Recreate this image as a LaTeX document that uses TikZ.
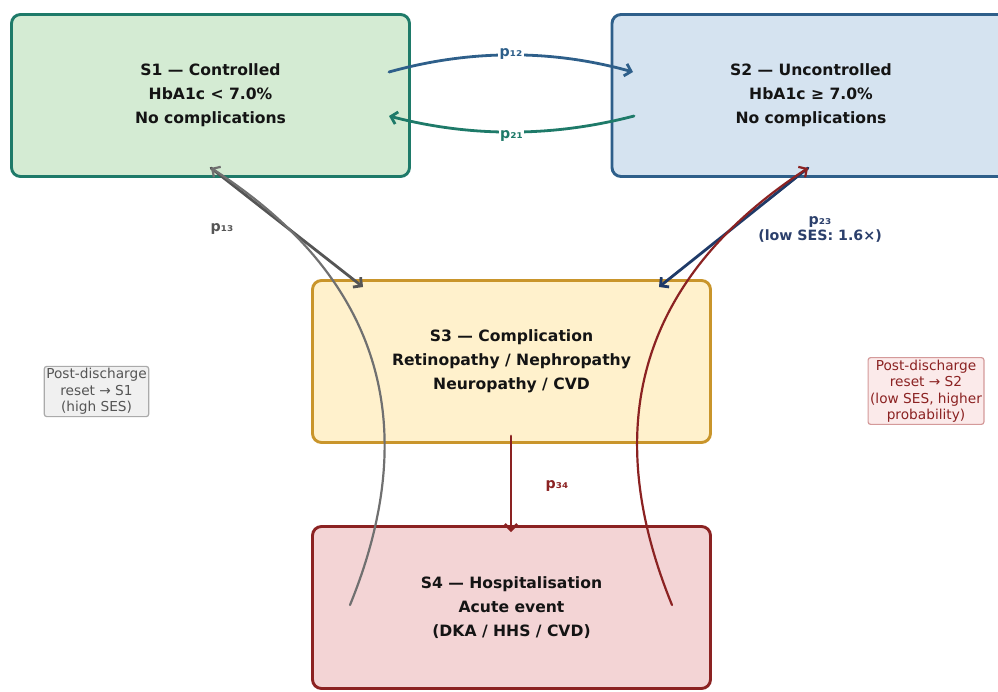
\documentclass[tikz,border=0pt]{standalone}
\usepackage{fontspec}
\setmainfont{DejaVu Sans}
\usetikzlibrary{arrows.meta,calc}
\definecolor{txt}{HTML}{141414}
\definecolor{sAfill}{HTML}{D4EBD3}
\definecolor{sAdraw}{HTML}{1E7A69}
\definecolor{sBfill}{HTML}{D5E3F0}
\definecolor{sBdraw}{HTML}{2E5F8A}
\definecolor{sCfill}{HTML}{FFF1CC}
\definecolor{sCdraw}{HTML}{C9952B}
\definecolor{sDfill}{HTML}{F3D4D5}
\definecolor{sDdraw}{HTML}{8B2222}
\definecolor{grayarr}{HTML}{555555}
\definecolor{grayreset}{HTML}{707070}
\definecolor{navy}{HTML}{1F3A68}
\definecolor{navytxt}{HTML}{2B3F6B}
\definecolor{noteAfill}{HTML}{F0F0F0}
\definecolor{noteAdraw}{HTML}{AAAAAA}
\definecolor{noteAtxt}{HTML}{555555}
\definecolor{noteBfill}{HTML}{FBEAEA}
\definecolor{noteBdraw}{HTML}{D49A9A}
\begin{document}
\begin{tikzpicture}[x=1pt,y=-1pt,
  state/.style={rectangle, rounded corners=9pt, line width=2.9pt,
    minimum width=398pt, minimum height=162pt, inner sep=0pt, align=center,
    text=txt, font=\fontsize{15.6}{24}\selectfont\bfseries},
  arr/.style={line width=2.8pt, line cap=round,
    -{Straight Barb[length=6pt,width=12.5pt]}},
  plabel/.style={font=\fontsize{14.2}{16}\selectfont\bfseries, align=center, inner sep=1.5pt},
  note/.style={rectangle, rounded corners=2.5pt, line width=1.2pt, align=center,
    inner sep=2pt, font=\fontsize{13.7}{16.5}\selectfont}
]
\useasboundingbox (0,0) rectangle (998,691);
\clip (0,0) rectangle (998,691);

% states
\node[state, fill=sAfill, draw=sAdraw] (s1) at (210.5,95.5)
  {S1 — Controlled\\HbA1c < 7.0\%\\No complications};
\node[state, fill=sBfill, draw=sBdraw] (s2) at (811,95.5)
  {S2 — Uncontrolled\\HbA1c ≥ 7.0\%\\No complications};
\node[state, fill=sCfill, draw=sCdraw] (s3) at (511.5,361.5)
  {S3 — Complication\\Retinopathy / Nephropathy\\Neuropathy / CVD};
\node[state, fill=sDfill, draw=sDdraw] (s4) at (511.5,607.5)
  {S4 — Hospitalisation\\Acute event\\(DKA / HHS / CVD)};

% notes
\node[note, fill=noteAfill, draw=noteAdraw, text=noteAtxt] (n1) at (96.5,391.5)
  {Post-discharge\\reset → S1\\(high SES)};
\node[note, fill=noteBfill, draw=noteBdraw, text=sDdraw] (n2) at (926,391)
  {Post-discharge\\reset → S2\\(low SES, higher\\probability)};

% connector end points
\coordinate (a12) at (389,72);
\coordinate (b12) at (633,72);
\coordinate (a21) at (634,116);
\coordinate (b21) at (389,116);
\coordinate (s1low) at (211,168);
\coordinate (s3in) at (363,287);
\coordinate (s2low) at (808,168);
\coordinate (s3inr) at (659,287);
\coordinate (s3bot) at (511,436);
\coordinate (s4top) at (511,532);
\coordinate (s4l) at (350,605);
\coordinate (s4r) at (672,605);

% arrows
\draw[arr, sBdraw] (a12) .. controls +(81.3,-22.7) and +(-81.3,-22.7) .. (b12)
  node[pos=0.5, plabel, fill=white, text=sBdraw, yshift=1pt] (l12) {p₁₂};
\draw[arr, sAdraw] (a21) .. controls +(-81.7,21.3) and +(81.7,21.3) .. (b21)
  node[pos=0.5, plabel, fill=white, text=sAdraw, yshift=-4pt] (l21) {p₂₁};
\draw[arr, grayarr] (s1low) -- (s3in);
\draw[arr, navy] (s2low) -- (s3inr);
\draw[arr, sDdraw] (s3bot) -- (s4top);
\draw[arr, grayreset, line width=2.2pt] (s4l) .. controls +(74.7,-183.3) and +(167.3,108) .. (s1low);
\draw[arr, sDdraw, line width=2.2pt] (s4r) .. controls +(-74.7,-183.3) and +(-165.3,108) .. (s2low);

% labels
\node[plabel, text=grayarr] (l13) at (222,229) {p₁₃};
\node[plabel, text=navytxt] (l23) at (820,229) {p₂₃\\(low SES: 1.6×)};
\node[plabel, text=sDdraw] (l34) at (557,486) {p₃₄};
\end{tikzpicture}
\end{document}
